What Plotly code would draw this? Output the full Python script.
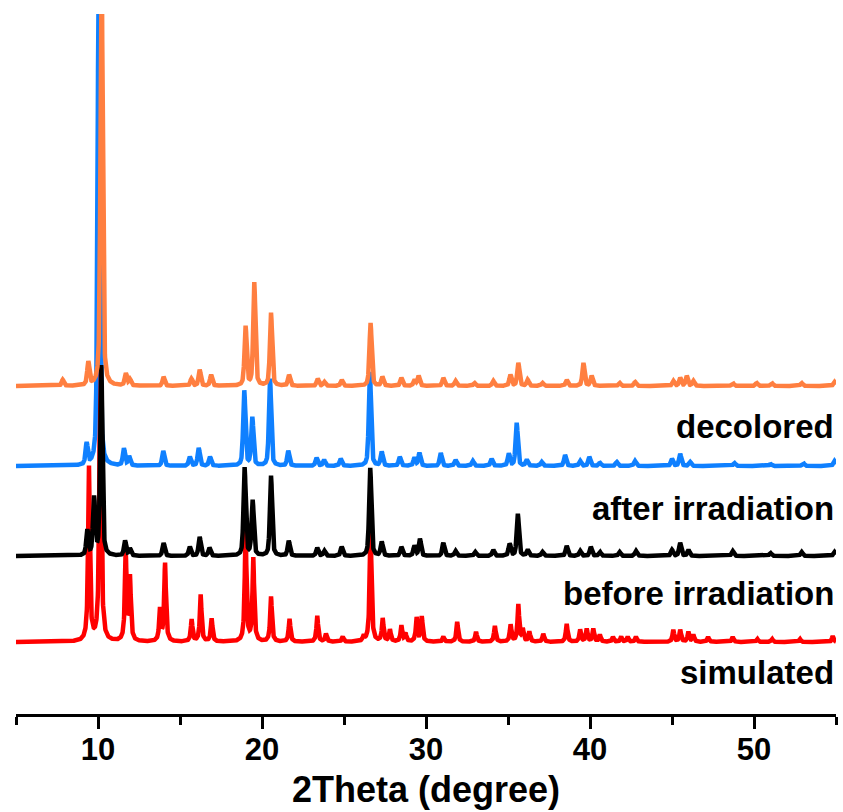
import numpy as np
import plotly.graph_objects as go

# ---- data (peak position in 2theta, peak height in arbitrary units) ----
dec_pos = [7.85, 9.41, 10.22, 11.7, 11.95, 14.0, 15.7, 16.2, 16.9, 19.0, 19.53, 20.55, 21.65, 23.4, 23.8,
           24.86, 26.62, 27.34, 28.5, 29.3, 29.55, 31.06, 31.8, 32.95, 34.1, 35.15, 35.63, 36.2, 37.1,
           38.58, 39.6, 40.1, 41.8, 42.75, 45.08, 45.5, 45.9, 46.3, 48.7, 50.16, 51.08, 52.9, 54.9]
dec_h = [6, 23, 420, 12, 6, 9, 7, 16, 11, 59, 103, 73, 11, 7, 4,
         6, 63, 9, 8, 6, 10, 8, 5, 3, 5, 11, 23, 6, 3,
         6, 23, 10, 3, 4, 5, 8, 10, 5, 3, 3, 3, 3, 4]

aft_pos = [9.31, 10.04, 11.58, 11.9, 13.98, 15.6, 16.14, 16.83, 18.92, 19.41, 20.49, 21.6, 23.33, 23.78,
           24.8, 26.58, 27.3, 28.4, 29.3, 29.6, 30.9, 31.8, 32.85, 34.0, 35.05, 35.53, 36.14, 37.05,
           38.48, 39.4, 39.96, 40.6, 41.63, 42.74, 45.0, 45.5, 46.1, 48.8, 51.0, 53.0, 54.9]
aft_h = [21, 480, 17, 9, 15, 9, 18, 9, 75, 48, 87, 15, 8, 6,
         7, 94, 14, 9, 8, 13, 13, 6, 5, 7, 12, 43, 6, 4,
         11, 5, 9, 3, 4, 5, 7, 12, 4, 3, 2, 3, 5]

bef_pos = [9.35, 9.76, 10.2, 11.65, 11.95, 14.0, 15.6, 16.2, 16.8, 18.94, 19.43, 20.55, 21.63, 23.37,
           23.8, 24.86, 26.6, 27.3, 28.5, 29.3, 29.63, 31.06, 31.8, 33.0, 34.1, 35.1, 35.6, 36.2, 37.1,
           38.58, 39.4, 40.05, 40.6, 41.8, 42.8, 45.0, 45.5, 46.0, 48.7, 51.0, 52.9, 54.9]
bef_h = [25, 57, 190, 15, 7, 13, 9, 19, 8, 88, 55, 80, 15, 8,
         5, 9, 88, 14, 9, 10, 17, 13, 5, 4, 6, 12, 42, 6, 4,
         10, 5, 9, 4, 4, 5, 6, 13, 6, 5, 3, 4, 4]

sim_pos = [9.45, 10.14, 11.69, 11.95, 13.78, 14.09, 15.71, 16.26, 16.93, 19.0, 19.47, 20.55, 21.68,
           23.37, 23.9, 24.92, 26.2, 26.62, 27.36, 27.8, 28.5, 28.75, 29.43, 29.74, 31.06, 31.9, 33.05,
           34.2, 35.16, 35.63, 35.9, 36.3, 37.15, 38.58, 39.4, 39.8, 40.2, 40.6, 41.4, 41.9, 42.3, 42.8,
           45.08, 45.5, 46.0, 46.3, 47.2, 48.7, 50.2, 51.1, 52.8, 54.8]
sim_h = [174, 320, 87, 63, 32, 78, 22, 47, 23, 110, 83, 45, 23,
         26, 8, 5, 5, 120, 23, 12, 16, 8, 24, 25, 5, 20, 10,
         16, 17, 37, 12, 10, 8, 18, 12, 13, 13, 7, 5, 5, 5, 5,
         12, 12, 10, 7, 5, 5, 3, 3, 3, 6]

labels = ["simulated", "before irradiation", "after irradiation", "decolored"]
tick_vals = [10, 20, 30, 40, 50]

# ---- presentation ----
offsets = {"simulated": 72, "before irradiation": 158, "after irradiation": 248, "decolored": 328}
label_y = {"simulated": 42, "before irradiation": 121, "after irradiation": 206, "decolored": 288}
colors = {"simulated": "#FF0000", "before irradiation": "#000000",
          "after irradiation": "#0F80FF", "decolored": "#FF7F40"}
fwhm = {"simulated": 0.12, "before irradiation": 0.16, "after irradiation": 0.16, "decolored": 0.16}
eta = {"simulated": 1.0, "before irradiation": 0.5, "after irradiation": 0.5, "decolored": 0.5}

peaks = {"simulated": (sim_pos, sim_h), "before irradiation": (bef_pos, bef_h),
         "after irradiation": (aft_pos, aft_h), "decolored": (dec_pos, dec_h)}

x = np.round(np.arange(5.0, 55.0001, 0.01), 3)


def profile(pos, h, w, e):
    y = np.zeros_like(x)
    hw = w / 2.0
    for p, a in zip(pos, h):
        d = (x - p) / hw
        lor = 1.0 / (1.0 + d * d)
        gau = np.exp(-np.log(2) * d * d)
        y += a * (e * lor + (1 - e) * gau)
    return y


fig = go.Figure()
for name in ["simulated", "after irradiation", "before irradiation", "decolored"]:
    pos, h = peaks[name]
    y = offsets[name] + profile(pos, h, fwhm[name], eta[name])
    fig.add_trace(go.Scatter(x=x, y=y, mode="lines", name=name,
                             line=dict(color=colors[name], width=4.5), showlegend=False,
                             hoverinfo="skip"))

for name in labels:
    fig.add_annotation(text=name, xref="paper", x=1, xshift=0, xanchor="right",
                       yref="y", y=label_y[name], yanchor="middle", showarrow=False,
                       font=dict(family="Liberation Sans, Arial, sans-serif", size=33,
                                 color="black", weight="bold"))

axfont = "Liberation Sans, Arial, sans-serif"
fig.update_xaxes(range=[5, 55], tickvals=tick_vals, ticktext=[str(v) for v in tick_vals],
                 showline=True, linewidth=3, linecolor="black", ticks="outside",
                 ticklen=12, tickwidth=3, tickcolor="black", showgrid=False, zeroline=False,
                 ticklabelstandoff=-6,
                 minor=dict(dtick=5, tick0=5, ticks="outside", ticklen=8, tickwidth=3,
                            tickcolor="black", showgrid=False),
                 tickfont=dict(family=axfont, size=31, color="black", weight="bold"),
                 title=dict(text="2Theta (degree)", standoff=11,
                            font=dict(family=axfont, size=36, color="black", weight="bold")))
fig.update_yaxes(range=[0, 700], visible=False)
fig.update_layout(width=843, height=812, margin=dict(l=16, r=7, t=14, b=98),
                  plot_bgcolor="white", paper_bgcolor="white")

fig.write_html("out.html")
